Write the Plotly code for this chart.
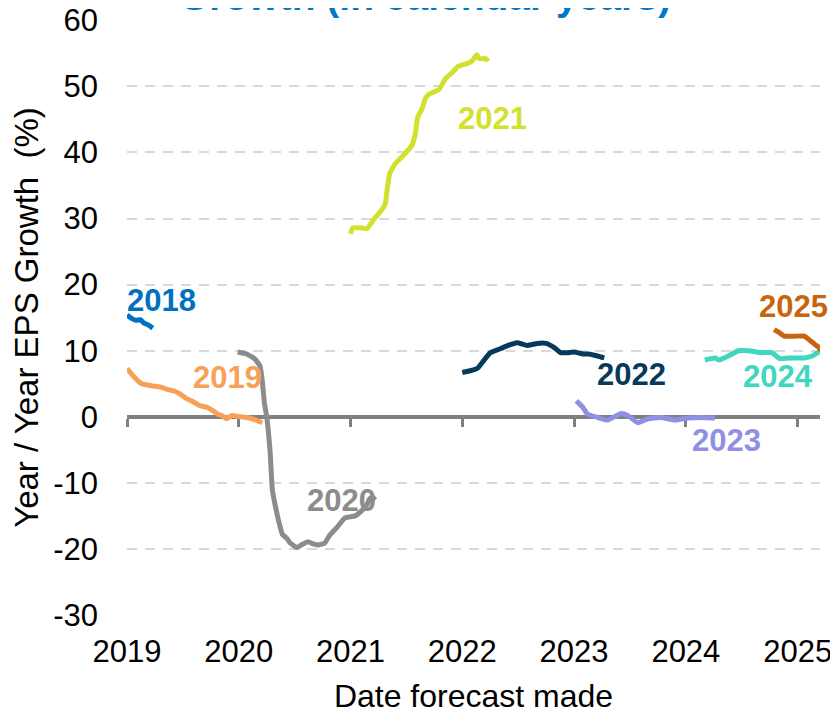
import plotly.graph_objects as go

# ---------------- data (x = date forecast made, decimal years; y = YoY EPS growth %) ----------------
x_2018 = [2019.00, 2019.04, 2019.08, 2019.12, 2019.15, 2019.19, 2019.23]
y_2018 = [15.4, 14.9, 14.6, 14.7, 14.2, 13.9, 13.4]

x_2019 = [2019.00, 2019.06, 2019.13, 2019.22, 2019.30, 2019.35, 2019.42, 2019.47, 2019.53,
          2019.60, 2019.65, 2019.72, 2019.77, 2019.81, 2019.86, 2019.89, 2019.94, 2020.01,
          2020.07, 2020.12, 2020.21]
y_2019 = [7.3, 6.1, 5.0, 4.7, 4.5, 4.2, 3.9, 3.5, 2.8,
          2.2, 1.7, 1.4, 0.9, 0.4, 0.1, -0.3, 0.2, 0.0,
          -0.1, -0.3, -0.9]

x_2020 = [2019.99, 2020.07, 2020.14, 2020.19, 2020.21, 2020.23, 2020.25, 2020.28, 2020.30,
          2020.32, 2020.36, 2020.39, 2020.43, 2020.46, 2020.52, 2020.57, 2020.62, 2020.66,
          2020.71, 2020.77, 2020.81, 2020.88, 2020.95, 2021.04, 2021.10, 2021.15, 2021.17,
          2021.20, 2021.22]
y_2020 = [9.8, 9.5, 8.8, 7.7, 5.5, 2.0, 0.0, -5.2, -11.0,
          -12.9, -16.0, -17.8, -18.4, -19.1, -19.8, -19.3, -18.9, -19.2,
          -19.4, -19.1, -18.0, -16.7, -15.3, -15.0, -14.2, -13.2, -12.4,
          -12.2, -12.6]

x_2021 = [2021.00, 2021.02, 2021.08, 2021.15, 2021.20, 2021.26, 2021.31, 2021.33, 2021.35,
          2021.40, 2021.47, 2021.55, 2021.58, 2021.60, 2021.64, 2021.67, 2021.71, 2021.79,
          2021.85, 2021.91, 2021.96, 2022.05, 2022.09, 2022.13, 2022.15, 2022.21, 2022.23]
y_2021 = [27.7, 28.6, 28.6, 28.5, 29.7, 30.9, 32.2, 34.7, 36.8,
          38.3, 39.5, 41.1, 42.9, 45.3, 46.6, 48.2, 48.9, 49.5,
          51.2, 52.1, 53.0, 53.5, 53.9, 54.8, 54.2, 54.2, 53.8]

x_2022 = [2022.00, 2022.10, 2022.14, 2022.21, 2022.25, 2022.34, 2022.41, 2022.49, 2022.58,
          2022.67, 2022.75, 2022.82, 2022.88, 2022.94, 2023.00, 2023.08, 2023.13, 2023.21,
          2023.27]
y_2022 = [6.7, 7.1, 7.4, 8.9, 9.7, 10.3, 10.8, 11.2, 10.8,
          11.1, 11.1, 10.5, 9.7, 9.7, 9.8, 9.5, 9.5, 9.2,
          8.9]

x_2023 = [2023.02, 2023.08, 2023.12, 2023.21, 2023.30, 2023.42, 2023.48, 2023.57, 2023.66,
          2023.78, 2023.90, 2024.02, 2024.14, 2024.26]
y_2023 = [2.4, 1.4, 0.4, -0.1, -0.5, 0.5, 0.2, -0.9, -0.3,
          -0.1, -0.5, -0.2, -0.1, -0.2]

x_2024 = [2024.17, 2024.26, 2024.30, 2024.38, 2024.47, 2024.56, 2024.68, 2024.77, 2024.84,
          2024.92, 2025.01, 2025.06, 2025.13, 2025.21]
y_2024 = [8.6, 8.9, 8.6, 9.2, 10.0, 10.0, 9.7, 9.7, 8.8,
          8.9, 8.9, 8.9, 9.2, 10.0]

x_2025 = [2024.79, 2024.83, 2024.88, 2024.97, 2025.06, 2025.10, 2025.15, 2025.19, 2025.21]
y_2025 = [13.2, 12.8, 12.2, 12.2, 12.2, 11.7, 11.0, 10.5, 10.0]

series_names = ["2018", "2019", "2020", "2021", "2022", "2023", "2024", "2025"]
series_x = [x_2018, x_2019, x_2020, x_2021, x_2022, x_2023, x_2024, x_2025]
series_y = [y_2018, y_2019, y_2020, y_2021, y_2022, y_2023, y_2024, y_2025]

year_ticks = [2019, 2020, 2021, 2022, 2023, 2024, 2025]
y_ticks = [-30, -20, -10, 0, 10, 20, 30, 40, 50, 60]
y_tick_text = ["-30", "-20", "-10", "0", "10", "20", "30", "40", "50", "60"]

# label anchor points (data coords)
label_x = [2019.31, 2019.90, 2020.92, 2022.27, 2023.51, 2024.36, 2024.82, 2024.96]
label_y = [17.6, 5.9, -12.7, 45.2, 6.4, -3.6, 6.1, 16.7]

# ---------------- styles ----------------
colors = ["#0070C0", "#F9A057", "#8C8C8C", "#D2E12B", "#063A5B", "#8F8FE3", "#40D7BE", "#C8640E"]
FONT = "Liberation Sans, Arial, sans-serif"

fig = go.Figure()
for name, xs, ys, c in zip(series_names, series_x, series_y, colors):
    fig.add_trace(go.Scatter(x=xs, y=ys, mode="lines", name=name,
                             line=dict(color=c, width=5, shape="spline", smoothing=0.4),
                             showlegend=False))

# helper trace so the zero-line axis (x2) is drawn
fig.add_trace(go.Scatter(x=year_ticks, y=[None] * len(year_ticks), xaxis="x2", yaxis="y",
                         mode="lines", showlegend=False, hoverinfo="skip"))

for name, lx, ly, c in zip(series_names, label_x, label_y, colors):
    fig.add_annotation(x=lx, y=ly, xref="x", yref="y", text="<b>%s</b>" % name,
                       showarrow=False, font=dict(family=FONT, size=31, color=c),
                       xanchor="center", yanchor="middle")

# partially visible title at the very top
fig.add_annotation(x=0.43, y=1, xref="paper", yref="paper", yshift=0,
                   text="<b>Growth (in calendar years)</b>", showarrow=False,
                   font=dict(family=FONT, size=39, color="#0077C8"),
                   xanchor="center", yanchor="bottom")

fig.update_layout(
    width=838, height=714,
    margin=dict(l=119, r=26, t=12, b=107),
    paper_bgcolor="white", plot_bgcolor="white",
    font=dict(family=FONT, size=31, color="black"),
    xaxis=dict(range=[2019, 2025.2], tickvals=year_ticks, ticktext=[str(v) for v in year_ticks],
               showgrid=False, zeroline=False, showline=False, ticks="", automargin=False,
               ticklabelstandoff=15, ticklabeloverflow="allow",
               title=dict(text="Date forecast made", font=dict(size=32), standoff=16)),
    xaxis2=dict(overlaying="x", matches="x", anchor="free", position=1/3, automargin=False,
                tickvals=year_ticks, showticklabels=False, showgrid=False, zeroline=False,
                showline=True, linecolor="#808080", linewidth=4,
                ticks="outside", ticklen=8, tickwidth=3, tickcolor="#808080",
                layer="below traces"),
    yaxis=dict(range=[-30, 60.05], tickvals=y_ticks, ticktext=y_tick_text, showgrid=True,
               gridcolor="#D9D9D9", automargin=False, ticklabeloverflow="allow",
               gridwidth=2, griddash="10px,8px", zeroline=False, showline=False, ticks="",
               ticklabelstandoff=28,
               title=dict(text="Year / Year EPS Growth  (%)", font=dict(size=33), standoff=5)),
)

fig.write_html("out.html")
